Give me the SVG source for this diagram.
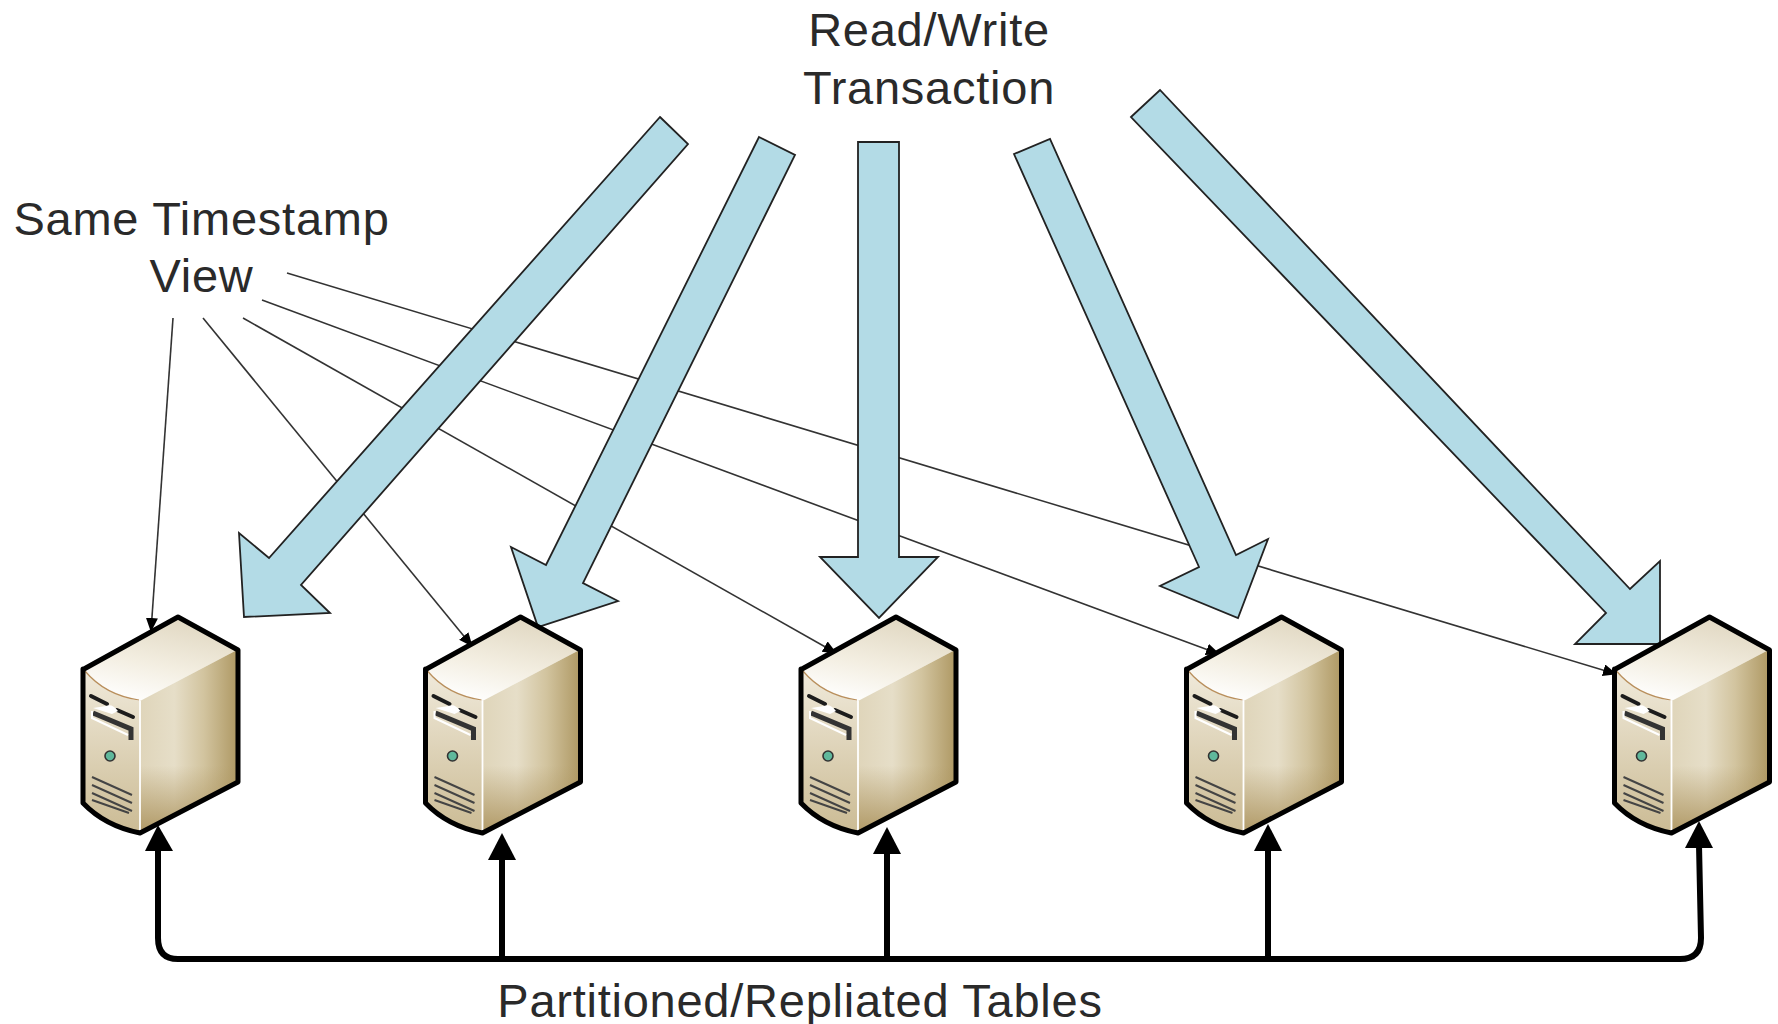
<svg xmlns="http://www.w3.org/2000/svg" width="1778" height="1024" viewBox="0 0 1778 1024">
<style>
text{font-family:"Liberation Sans",Arial,sans-serif;font-size:47px;letter-spacing:.75px;fill:#2a2a2a;text-anchor:middle}
.thin{fill:none;stroke:#333;stroke-width:1.6;marker-end:url(#small)}
.big{fill:#b3dbe6;stroke:#222;stroke-width:1.8;stroke-linejoin:miter}
.bus{fill:none;stroke:#000;stroke-width:6}
.head{fill:#000}
</style>
<defs>
<marker id="small" markerWidth="16" markerHeight="14" refX="13" refY="6" orient="auto" markerUnits="userSpaceOnUse"><path d="M0 0L14 6L0 12Z" fill="#000"/></marker>
<linearGradient id="gt" x1="0.25" y1="1" x2="0.65" y2="0"><stop offset="0" stop-color="#fff"/><stop offset="0.45" stop-color="#f3eee1"/><stop offset="1" stop-color="#e0d7c1"/></linearGradient>
<linearGradient id="gr" gradientUnits="userSpaceOnUse" x1="140" y1="0" x2="238" y2="0"><stop offset="0" stop-color="#dfd5ba"/><stop offset="0.35" stop-color="#e6dec8"/><stop offset="0.65" stop-color="#d2c49f"/><stop offset="1" stop-color="#ae9863"/></linearGradient>
<linearGradient id="grs" gradientUnits="userSpaceOnUse" x1="0" y1="720" x2="0" y2="834"><stop offset="0.4" stop-color="#ad9560" stop-opacity="0"/><stop offset="1" stop-color="#ad9560" stop-opacity="0.95"/></linearGradient>
<linearGradient id="gf" x1="0" y1="0" x2="0" y2="1"><stop offset="0" stop-color="#f0eadb"/><stop offset="1" stop-color="#cbbb94"/></linearGradient>
<g id="server">
<path d="M178 617L237 650L140 701Q105 695 84 669Z" fill="url(#gt)"/>
<path d="M140 701L237 650V782L140 833Z" fill="url(#gr)"/>
<path d="M140 701L237 650V782L140 833Z" fill="url(#grs)"/>
<path d="M84 669Q105 695 140 701V833Q105 826 84 803Z" fill="url(#gf)"/>
<path d="M85 671Q105 695 139 700" fill="none" stroke="#b98f5c" stroke-width="1.2"/>
<path d="M140 701V832" stroke="#fff" stroke-width="1.8" fill="none"/>
<path d="M91 696L107 704M117 710L133 717" stroke="#1c1c1c" stroke-width="4" fill="none" stroke-linecap="round"/>
<path d="M93 708L106 706Q112 703 118 711L112 714Z" fill="#fff"/>
<path d="M93 713L131 729V740" stroke="#333" stroke-width="5" fill="none"/>
<path d="M92 711V718L128 735" stroke="#fff" stroke-width="2" fill="none"/>
<circle cx="110" cy="756" r="5" fill="#5fb89c" stroke="#333" stroke-width="1.6"/>
<path d="M92 777L132 795M92 785L132 803M92 793L132 811M92 800L129 813" stroke="#444" stroke-width="2" fill="none"/>
<path d="M84 669L178 617L238 650V782L140 833Q105 826 83 803V669Z" fill="none" stroke="#000" stroke-width="5" stroke-linejoin="round"/>
</g>
</defs>
<rect width="1778" height="1024" fill="#fff"/>
<g id="connectors">
<path class="thin" d="M173 318L151 631"/>
<path class="thin" d="M203 318L472 646"/>
<path class="thin" d="M243 318L836 653"/>
<path class="thin" d="M262 300L1219 654"/>
<path class="thin" d="M287 273L1616 674"/>
<polygon class="big" points="660,117 688,144 301,585 330,613 244,617 239,533 269,558"/>
<polygon class="big" points="759,137 795,155 583,583 618,601 538,627 511,547 546,565"/>
<polygon class="big" points="858,142 899,142 899,557 938,557 879,618 820,557 858,557"/>
<polygon class="big" points="1014,154 1050,139 1236,555 1268,539 1238,618 1160,586 1199,567"/>
<polygon class="big" points="1131,117 1160,90 1630,589 1660,561 1660,644 1575,644 1606,613"/>
</g>
<g id="server-1"><use href="#server"/></g>
<g id="server-2"><use href="#server" x="342.5"/></g>
<g id="server-3"><use href="#server" x="718"/></g>
<g id="server-4"><use href="#server" x="1103.5"/></g>
<g id="server-5"><use href="#server" x="1531.5"/></g>
<g id="bus">
<path class="bus" d="M158 845V938Q158 959 178 959H1680Q1701 959 1701 938L1699 845"/>
<path class="bus" d="M502 855V959M887 850V959M1268 847V959"/>
<polygon class="head" points="158,825 173,851 145,851"/>
<polygon class="head" points="502,833 516,860 488,860"/>
<polygon class="head" points="887,827 901,854 873,854"/>
<polygon class="head" points="1268,824 1282,851 1254,851"/>
<polygon class="head" points="1699,821 1713,848 1685,848"/>
</g>
<g id="labels">
<text x="929" y="46">Read/Write</text>
<text x="929" y="104">Transaction</text>
<text x="201.500" y="234.500">Same Timestamp</text>
<text x="201.500" y="292">View</text>
<text x="800" y="1017">Partitioned/Repliated Tables</text>
</g>
</svg>
